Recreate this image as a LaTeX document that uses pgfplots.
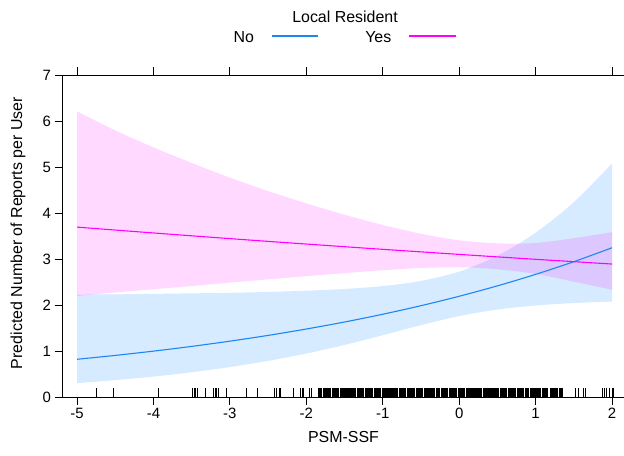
\documentclass[border=0pt]{standalone}
\usepackage{pgfplots}
\pgfplotsset{compat=1.18}
\usepgfplotslibrary{fillbetween}
\usepackage{fontspec}
\setmainfont{Liberation Sans}
\definecolor{cblue}{HTML}{1E86F0}
\definecolor{cpink}{HTML}{FF00FF}
\definecolor{bandblue}{HTML}{0080FF}
\begin{document}
\begin{tikzpicture}[x=1bp,y=1bp]
\begin{axis}[
 at={(62.5bp,59bp)}, anchor=south west,
 scale only axis, width=562bp, height=322bp,
 xmin=-5.19, xmax=2.163, ymin=0, ymax=7,
 xtick={-5,-4,-3,-2,-1,0,1,2}, ytick={0,1,2,3,4,5,6,7},
 tick align=outside, major tick length=8bp,
 xtick pos=both, xticklabel pos=lower, ytick pos=left,
 axis line style={line width=0.8bp},
 tick style={line width=0.8bp, black},
 /pgf/number format/assume math mode=true,
 tick label style={font=\fontsize{15}{18}\selectfont},
 label style={font=\fontsize{16}{19}\selectfont},
 xlabel={PSM-SSF},
 ylabel={Predicted Number of Reports per User},
 xlabel style={at={(axis description cs:0.5,-0.124)}, anchor=center},
 ylabel style={at={(axis description cs:-0.079,0.509)}, anchor=center},
]
% No (blue) band
\addplot[name path=bu, draw=none, smooth] coordinates {
(-5,2.227)(-4.5,2.232)(-4,2.241)(-3.5,2.253)(-3,2.265)(-2.5,2.284)(-2,2.311)(-1.5,2.348)(-1,2.411)(-0.5,2.523)(0,2.726)(0.5,3.071)(1,3.572)(1.5,4.236)(2,5.075)};
\addplot[name path=bl, draw=none, smooth] coordinates {
(-5,0.302)(-4.5,0.366)(-4,0.444)(-3.5,0.537)(-3,0.651)(-2.5,0.785)(-2,0.945)(-1.5,1.132)(-1,1.343)(-0.5,1.562)(0,1.759)(0.5,1.901)(1,1.990)(1.5,2.042)(2,2.075)};
\addplot[fill=bandblue, fill opacity=0.16, draw=none] fill between[of=bu and bl];
% Yes (pink) band
\addplot[name path=pu, draw=none, smooth] coordinates {
(-5,6.210)(-4.5,5.795)(-4,5.427)(-3.5,5.088)(-3,4.769)(-2.5,4.476)(-2,4.210)(-1.5,3.963)(-1,3.740)(-0.5,3.549)(0,3.406)(0.5,3.340)(1,3.348)(1.5,3.452)(2,3.583)};
\addplot[name path=pl, draw=none, smooth] coordinates {
(-5,2.196)(-4.5,2.272)(-4,2.343)(-3.5,2.413)(-3,2.486)(-2.5,2.557)(-2,2.626)(-1.5,2.693)(-1,2.755)(-0.5,2.804)(0,2.822)(0.5,2.778)(1,2.676)(1.5,2.507)(2,2.331)};
\addplot[fill=cpink, fill opacity=0.15, draw=none] fill between[of=pu and pl];
% fitted lines
\addplot[cblue, line width=1.1bp, smooth] coordinates {
(-5,0.820)(-4.5,0.904)(-4,0.997)(-3.5,1.100)(-3,1.214)(-2.5,1.339)(-2,1.478)(-1.5,1.630)(-1,1.799)(-0.5,1.985)(0,2.190)(0.5,2.416)(1,2.666)(1.5,2.941)(2,3.245)};
\addplot[cpink, line width=1.1bp, smooth] coordinates {
(-5,3.693)(-4.5,3.629)(-4,3.566)(-3.5,3.504)(-3,3.443)(-2.5,3.383)(-2,3.325)(-1.5,3.267)(-1,3.210)(-0.5,3.155)(0,3.100)(0.5,3.046)(1,2.993)(1.5,2.942)(2,2.890)};
% rug (sparse part)
\addplot[ycomb, black, line width=0.9bp, mark=none] coordinates {
(-4.742,0.2)(-4.525,0.2)(-3.936,0.2)(-3.491,0.2)(-3.469,0.2)(-3.447,0.2)(-3.425,0.2)(-3.325,0.2)(-3.216,0.2)(-3.194,0.2)(-3.172,0.2)(-3.151,0.2)(-3.041,0.2)(-2.788,0.2)(-2.640,0.2)(-2.421,0.2)(-2.386,0.2)(-2.356,0.2)(-2.334,0.2)(-2.169,0.2)(-2.072,0.2)(-2.050,0.2)(-2.037,0.2)(-1.959,0.2)(-1.928,0.2)
(1.518,0.2)(1.561,0.2)(1.627,0.2)(1.649,0.2)(1.868,0.2)(1.898,0.2)(1.933,0.2)(1.967,0.2)(1.999,0.2)(2.02,0.2)};
% rug (dense part)
\addplot[ycomb, black, line width=1.5bp, mark=none] coordinates {
(-1.84,0.2)(-1.82,0.2)(-1.80,0.2)(-1.77,0.2)(-1.75,0.2)(-1.73,0.2)(-1.71,0.2)(-1.69,0.2)(-1.66,0.2)(-1.64,0.2)(-1.62,0.2)(-1.60,0.2)(-1.58,0.2)(-1.55,0.2)(-1.53,0.2)(-1.51,0.2)(-1.49,0.2)(-1.47,0.2)(-1.44,0.2)(-1.42,0.2)(-1.40,0.2)(-1.38,0.2)(-1.36,0.2)(-1.33,0.2)(-1.31,0.2)(-1.29,0.2)(-1.27,0.2)(-1.25,0.2)(-1.22,0.2)(-1.20,0.2)(-1.18,0.2)(-1.16,0.2)(-1.14,0.2)(-1.11,0.2)(-1.09,0.2)(-1.07,0.2)(-1.05,0.2)(-1.03,0.2)(-1.00,0.2)(-0.98,0.2)(-0.96,0.2)(-0.94,0.2)(-0.92,0.2)(-0.89,0.2)(-0.87,0.2)(-0.85,0.2)(-0.83,0.2)(-0.81,0.2)(-0.78,0.2)(-0.76,0.2)(-0.74,0.2)(-0.72,0.2)(-0.70,0.2)(-0.67,0.2)(-0.65,0.2)(-0.63,0.2)(-0.61,0.2)(-0.59,0.2)(-0.56,0.2)(-0.54,0.2)(-0.52,0.2)(-0.50,0.2)(-0.48,0.2)(-0.45,0.2)(-0.43,0.2)(-0.41,0.2)(-0.39,0.2)(-0.37,0.2)(-0.34,0.2)(-0.32,0.2)(-0.30,0.2)(-0.28,0.2)(-0.26,0.2)(-0.23,0.2)(-0.21,0.2)(-0.19,0.2)(-0.17,0.2)(-0.15,0.2)(-0.12,0.2)(-0.10,0.2)(-0.08,0.2)(-0.06,0.2)(-0.04,0.2)(-0.01,0.2)(0.01,0.2)(0.03,0.2)(0.05,0.2)(0.07,0.2)(0.10,0.2)(0.12,0.2)(0.14,0.2)(0.16,0.2)(0.18,0.2)(0.21,0.2)(0.23,0.2)(0.25,0.2)(0.27,0.2)(0.29,0.2)(0.32,0.2)(0.34,0.2)(0.36,0.2)(0.38,0.2)(0.40,0.2)(0.43,0.2)(0.45,0.2)(0.47,0.2)(0.49,0.2)(0.51,0.2)(0.54,0.2)(0.56,0.2)(0.58,0.2)(0.60,0.2)(0.62,0.2)(0.65,0.2)(0.67,0.2)(0.69,0.2)(0.71,0.2)(0.73,0.2)(0.76,0.2)(0.78,0.2)(0.80,0.2)(0.82,0.2)(0.84,0.2)(0.87,0.2)(0.89,0.2)(0.91,0.2)(0.93,0.2)(0.95,0.2)(0.98,0.2)(1.00,0.2)(1.02,0.2)(1.04,0.2)(1.06,0.2)(1.09,0.2)(1.11,0.2)(1.13,0.2)(1.15,0.2)(1.20,0.2)(1.22,0.2)(1.24,0.2)(1.26,0.2)(1.28,0.2)(1.31,0.2)(1.33,0.2)(1.35,0.2)};
\end{axis}
% legend
\node[anchor=base, font=\fontsize{16}{19}\selectfont] at (345,433.3) {Local Resident};
\node[anchor=base, font=\fontsize{16}{19}\selectfont] at (243.7,413.3) {No};
\draw[cblue, line width=1.3bp] (271.7,420) -- (318.3,420);
\node[anchor=base, font=\fontsize{16}{19}\selectfont] at (378.3,413.3) {Yes};
\draw[cpink, line width=1.3bp] (409.3,420) -- (456,420);
\pgfresetboundingbox
\path (0,0) rectangle (624,456);
\end{tikzpicture}
\end{document}
